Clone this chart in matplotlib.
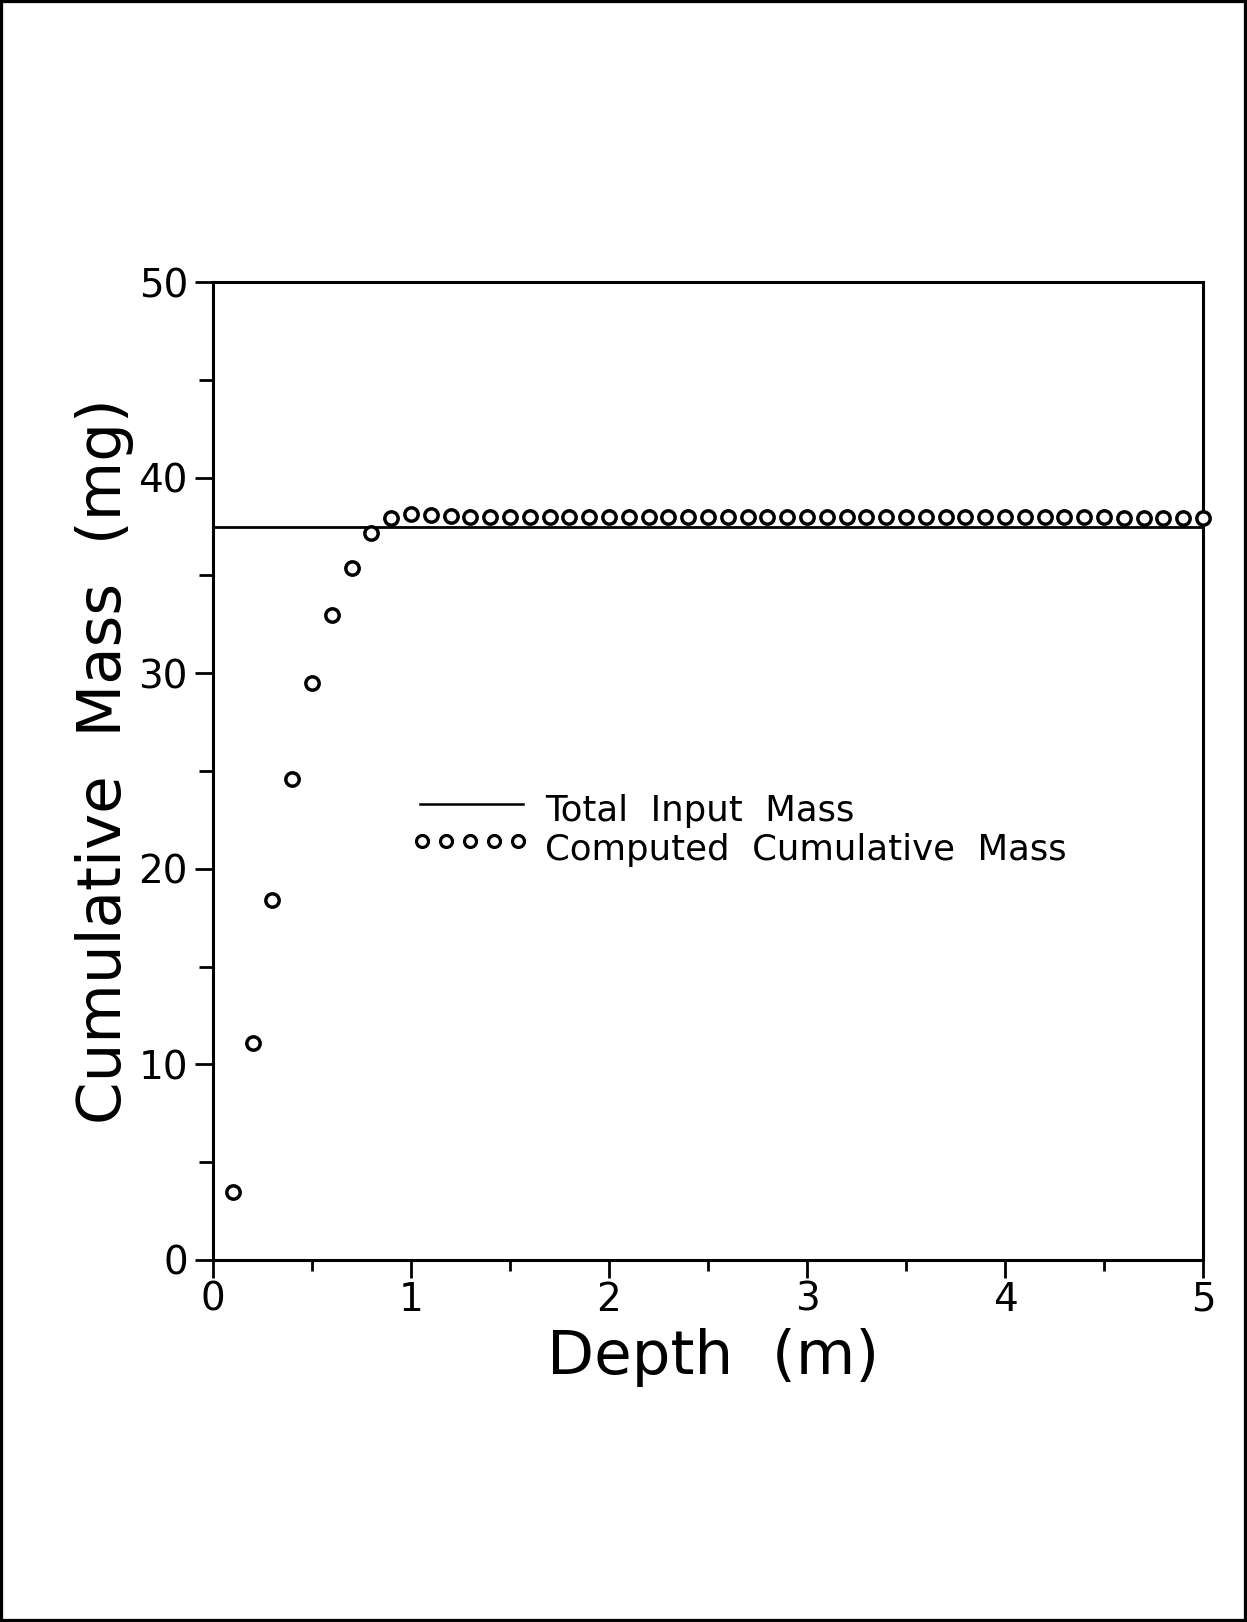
import matplotlib
matplotlib.use("Agg")
import matplotlib.pyplot as plt
from matplotlib.patches import Rectangle

# depth (m) and computed cumulative mass (mg)
depth = [0.1, 0.2, 0.3, 0.4, 0.5, 0.6, 0.7, 0.8, 0.9, 1.0,
         1.1, 1.2, 1.3, 1.4, 1.5, 1.6, 1.7, 1.8, 1.9, 2.0,
         2.1, 2.2, 2.3, 2.4, 2.5, 2.6, 2.7, 2.8, 2.9, 3.0,
         3.1, 3.2, 3.3, 3.4, 3.5, 3.6, 3.7, 3.8, 3.9, 4.0,
         4.1, 4.2, 4.3, 4.4, 4.5, 4.6, 4.7, 4.8, 4.9, 5.0]
mass = [3.5, 11.1, 18.4, 24.6, 29.5, 33.0, 35.4, 37.15, 37.95, 38.15,
        38.1, 38.05, 38.0, 38.0, 38.0, 38.0, 38.0, 38.0, 38.0, 38.0,
        38.0, 38.0, 38.0, 38.0, 38.0, 38.0, 38.0, 38.0, 38.0, 38.0,
        38.0, 38.0, 38.0, 38.0, 38.0, 38.0, 38.0, 37.98, 37.98, 37.98,
        37.98, 37.97, 37.97, 37.97, 37.97, 37.96, 37.96, 37.96, 37.96, 37.96]
total_input = 37.5

x_ticks = [0, 1, 2, 3, 4, 5]
y_ticks = [0, 10, 20, 30, 40, 50]

plt.rcParams['font.family'] = ['DejaVu Sans']

fig = plt.figure(figsize=(12.47, 16.22), dpi=100)
ax = fig.add_axes([0.1708, 0.2232, 0.7939, 0.6029])

ax.axhline(total_input, color='black', lw=2.0)
ax.plot(depth, mass, 'o', ms=9.6, mfc='white', mec='black', mew=2.5,
        clip_on=False, zorder=3)

ax.set_xlim(0, 5)
ax.set_ylim(0, 50)
ax.set_xticks(x_ticks)
ax.set_yticks(y_ticks)
ax.set_xticks([0.5, 1.5, 2.5, 3.5, 4.5], minor=True)
ax.set_yticks([5, 15, 25, 35, 45], minor=True)
ax.set_xticklabels([str(t) for t in x_ticks])
ax.set_yticklabels([str(t) for t in y_ticks])

for s in ax.spines.values():
    s.set_linewidth(2.2)
ax.tick_params(axis='both', which='both', direction='out', width=2.0,
               labelsize=28)
ax.tick_params(axis='x', which='major', length=13, pad=2)
ax.tick_params(axis='x', which='minor', length=8)
ax.tick_params(axis='y', which='major', length=13, pad=5)
ax.tick_params(axis='y', which='minor', length=10)

fig.text(0.572, 0.1628, 'Depth  (m)', fontsize=44, ha='center', va='center')
fig.text(0.0836, 0.5308, 'Cumulative  Mass  (mg)', fontsize=44,
         rotation=90, ha='center', va='center')

# hand-placed legend like the original plot
ax.plot([0.209, 0.313], [0.466, 0.466], color='black', lw=1.8,
        transform=ax.transAxes)
ax.plot([0.211, 0.235, 0.260, 0.284, 0.308], [0.428] * 5, 'o', ms=8.6,
        mfc='white', mec='black', mew=2.3, transform=ax.transAxes)
ax.text(0.335, 0.449, 'Total  Input  Mass', fontsize=25.6,
        transform=ax.transAxes, va='baseline')
ax.text(0.335, 0.409, 'Computed  Cumulative  Mass', fontsize=25.6,
        transform=ax.transAxes, va='baseline')

fig.add_artist(Rectangle((0, 0), 1, 1, transform=fig.transFigure,
                         fill=False, edgecolor='black', lw=4.5))

fig.savefig('out.png', dpi=100)
